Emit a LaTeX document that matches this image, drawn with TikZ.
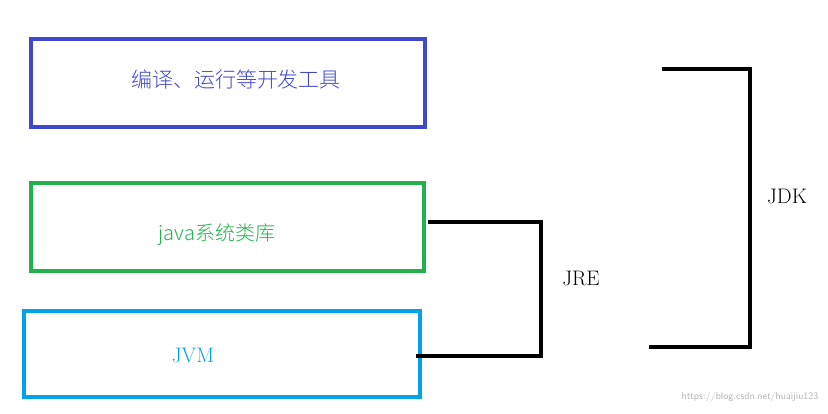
\documentclass[tikz,border=0pt]{standalone}
\usepackage{fontspec}
\newfontfamily\cjk{Noto Sans CJK SC Light}
\definecolor{toolblue}{HTML}{3F48CC}
\definecolor{libgreen}{HTML}{22B14C}
\definecolor{jvmcyan}{HTML}{00A2E8}
\tikzset{
    layer/.style={draw, line width=4pt, minimum width=#1, minimum height=88pt, inner sep=0pt},
    brace/.style={line width=3.5pt},
    big/.style={font=\fontsize{21}{23}\selectfont},
}
\begin{document}
\begin{tikzpicture}[x=1pt,y=-1pt]
    \useasboundingbox (0,0) rectangle (828,414);

    % the three layers
    \node[layer=394pt, draw=toolblue] (tools) at (228,83) {};
    \node[text=toolblue, font=\cjk\fontsize{21}{23}\selectfont] (toolstext) at (236,80) {编译、运行等开发工具};
    \node[layer=393pt, draw=libgreen] (lib) at (227.5,227.5) {};
    \node[text=libgreen, font=\cjk\fontsize{20}{22}\selectfont] (libtext) at (217,235) {java系统类库};
    \node[layer=396pt, minimum height=86pt, draw=jvmcyan] (jvm) at (222,354) {};
    \node[big, text=jvmcyan] (jvmtext) at (193,355) {JVM};

    % brackets
    \coordinate (jreA) at (428,222);
    \coordinate (jreB) at (416,356);
    \draw[brace] (jreA) -- (541,222) -- (541,356) -- (jreB);
    \node[big] (jre) at (581,278) {JRE};

    \coordinate (jdkA) at (662,69);
    \coordinate (jdkB) at (649,347);
    \draw[brace] (jdkA) -- (750,69) -- (750,347) -- (jdkB);
    \node[big] (jdk) at (787,196) {JDK};

    % watermark
    \node[anchor=south east, text=gray!60, font=\sffamily\fontsize{10}{11}\selectfont] (mark) at (822,406) {https://blog.csdn.net/huaijiu123};
\end{tikzpicture}
\end{document}
